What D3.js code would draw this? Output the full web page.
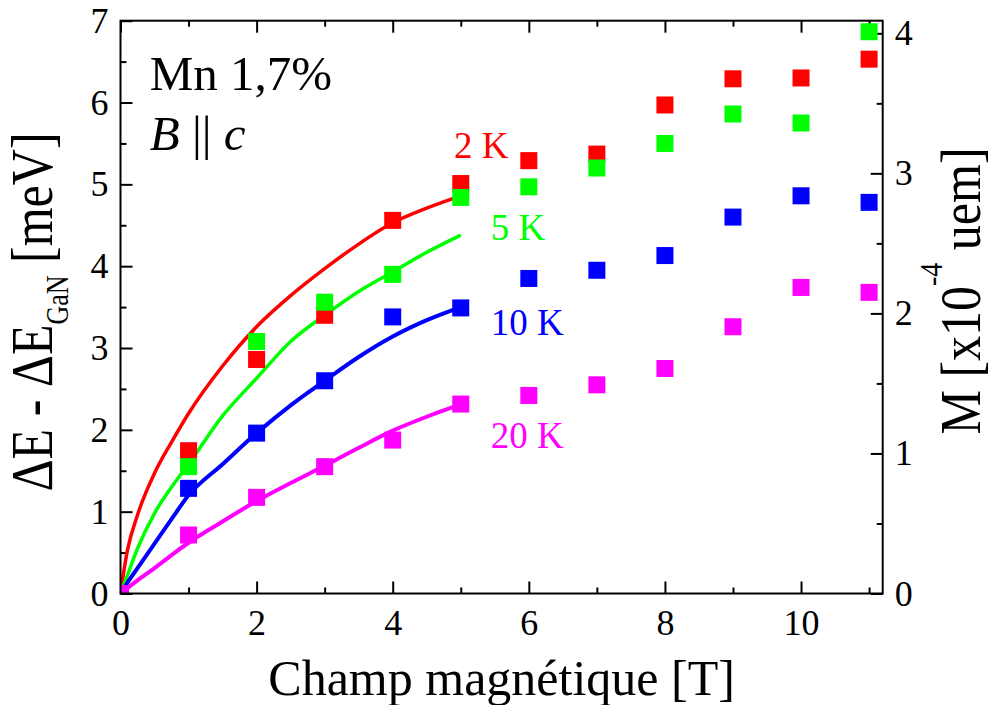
<!DOCTYPE html>
<html>
<head>
<meta charset="utf-8">
<script src="https://cdn.jsdelivr.net/npm/d3@7"></script>
<style>
  body { margin: 0; background: #fff; }
  svg { display: block; }
  text { font-family: "Liberation Serif", "Times New Roman", serif; }
</style>
</head>
<body>
<svg id="chart" width="994" height="705"></svg>
<script>
// ---------- data ----------
const fieldT = [1, 2, 3, 4, 5, 6, 7, 8, 9, 10, 11];
const fieldT20 = [0, 1, 2, 3, 4, 5, 6, 7, 8, 9, 10, 11];
const pts2K  = [1.745, 2.86, 3.40, 4.56, 5.01, 5.29, 5.37, 5.97, 6.29, 6.30, 6.53];
const pts5K  = [1.55, 3.08, 3.56, 3.90, 4.84, 4.97, 5.20, 5.50, 5.86, 5.75, 6.865];
const pts10K = [1.285, 1.96, 2.60, 3.38, 3.49, 3.85, 3.95, 4.13, 4.60, 4.86, 4.78];
const pts20K = [0, 0.715, 1.175, 1.55, 1.875, 2.315, 2.42, 2.55, 2.75, 3.26, 3.74, 3.68];

const curveField = [0, 0.1, 0.25, 0.5, 0.75, 1, 1.5, 2, 2.5, 3, 3.5, 4, 4.5, 5];
const fit2K  = [0, 0.52, 0.96, 1.47, 1.85, 2.20, 2.78, 3.26, 3.64, 3.97, 4.27, 4.53, 4.71, 4.86];
const fit5K  = [0, 0.22, 0.55, 0.98, 1.30, 1.58, 2.17, 2.63, 3.08, 3.40, 3.69, 3.93, 4.17, 4.38];
const fit10K = [0, 0.13, 0.31, 0.61, 0.91, 1.20, 1.58, 1.96, 2.30, 2.60, 2.89, 3.14, 3.34, 3.50];
const fit20K = [0, 0.065, 0.16, 0.31, 0.47, 0.62, 0.88, 1.13, 1.35, 1.56, 1.78, 1.99, 2.16, 2.31];

const seriesNames = ["2 K", "5 K", "10 K", "20 K"];
const seriesColors = ["#ff0000", "#00ff00", "#0000ff", "#ff00ff"];

const xMajorTicks = [0, 2, 4, 6, 8, 10];
const xMinorTicks = [1, 3, 5, 7, 9, 11];
const yMajorTicks = [0, 1, 2, 3, 4, 5, 6, 7];
const yMinorTicks = [0.5, 1.5, 2.5, 3.5, 4.5, 5.5, 6.5];
const yRMajorTicks = [0, 1, 2, 3, 4];
const yRMinorTicks = [0.5, 1.5, 2.5, 3.5];

// ---------- layout ----------
const svg = d3.select("#chart");
const L = 120.5, R = 882.7, T = 20.7, B = 593.5;

const x = d3.scaleLinear().domain([0, 11.2]).range([L, R]);
const y = d3.scaleLinear().domain([0, 7]).range([B, T]);
const yR = d3.scaleLinear().domain([0, 4.09]).range([B, T]);

svg.append("defs").append("clipPath").attr("id", "plotclip")
  .append("rect").attr("x", L).attr("y", T).attr("width", R - L).attr("height", B - T);

// ---------- axes ----------
function styleAxis(g) {
  g.select(".domain").remove();
  g.selectAll("line").attr("stroke", "#000").attr("stroke-width", 2);
  g.selectAll("text").attr("font-family", "'Liberation Serif','Times New Roman',serif")
    .attr("font-size", 36).attr("fill", "#000");
}
svg.append("g").attr("transform", `translate(0,${B})`)
  .call(d3.axisBottom(x).tickValues(xMajorTicks).tickSize(-12).tickPadding(16).tickFormat(d3.format("d")))
  .call(styleAxis);
svg.append("g").attr("transform", `translate(0,${B})`)
  .call(d3.axisBottom(x).tickValues(xMinorTicks).tickSize(-6).tickFormat(""))
  .call(styleAxis);
svg.append("g").attr("transform", `translate(0,${T})`)
  .call(d3.axisTop(x).tickValues(xMajorTicks).tickSize(-12).tickFormat(""))
  .call(styleAxis);
svg.append("g").attr("transform", `translate(0,${T})`)
  .call(d3.axisTop(x).tickValues(xMinorTicks).tickSize(-6).tickFormat(""))
  .call(styleAxis);
svg.append("g").attr("transform", `translate(${L},0)`)
  .call(d3.axisLeft(y).tickValues(yMajorTicks).tickSize(-12).tickPadding(12).tickFormat(d3.format("d")))
  .call(styleAxis);
svg.append("g").attr("transform", `translate(${L},0)`)
  .call(d3.axisLeft(y).tickValues(yMinorTicks).tickSize(-6).tickFormat(""))
  .call(styleAxis);
svg.append("g").attr("transform", `translate(${R},0)`)
  .call(d3.axisRight(yR).tickValues(yRMajorTicks).tickSize(-12).tickPadding(12).tickFormat(d3.format("d")))
  .call(styleAxis);
svg.append("g").attr("transform", `translate(${R},0)`)
  .call(d3.axisRight(yR).tickValues(yRMinorTicks).tickSize(-6).tickFormat(""))
  .call(styleAxis);

// ---------- curves & points ----------
const plot = svg.append("g").attr("clip-path", "url(#plotclip)");
const fits = [fit2K, fit5K, fit10K, fit20K];
const fitWidths = [3.5, 3.5, 4, 4];
const line = d3.line().x(d => x(d[0])).y(d => y(d[1])).curve(d3.curveMonotoneX);
fits.forEach((f, i) => {
  plot.append("path")
    .attr("d", line(curveField.map((b, j) => [b, f[j]])))
    .attr("fill", "none").attr("stroke", seriesColors[i])
    .attr("stroke-width", fitWidths[i]).attr("stroke-linejoin", "round");
});

const pointSets = [
  fieldT.map((b, j) => [b, pts2K[j]]),
  fieldT.map((b, j) => [b, pts5K[j]]),
  fieldT.map((b, j) => [b, pts10K[j]]),
  fieldT20.map((b, j) => [b, pts20K[j]])
];
const S = 17;
pointSets.forEach((ps, i) => {
  plot.append("g").selectAll("rect").data(ps).join("rect")
    .attr("x", d => x(d[0]) - S / 2).attr("y", d => y(d[1]) - S / 2)
    .attr("width", S).attr("height", S).attr("fill", seriesColors[i]);
});

// frame
svg.append("rect").attr("x", L).attr("y", T).attr("width", R - L).attr("height", B - T)
  .attr("fill", "none").attr("stroke", "#000").attr("stroke-width", 2);

// ---------- series labels ----------
const labelPos = [[4.90, 5.32], [5.44, 4.32], [5.44, 3.16], [5.44, 1.78]];
seriesNames.forEach((name, i) => {
  svg.append("text").attr("x", x(labelPos[i][0])).attr("y", y(labelPos[i][1]))
    .attr("font-size", 37).attr("fill", seriesColors[i]).text(name);
});

// ---------- annotations ----------
svg.append("text").attr("x", x(0.43)).attr("y", y(6.15)).attr("font-size", 49).attr("fill", "#000")
  .text("Mn 1,7%");
const bc = svg.append("text").attr("x", x(0.43)).attr("y", y(5.42)).attr("font-size", 49).attr("fill", "#000");
bc.append("tspan").attr("font-style", "italic").text("B");
bc.append("tspan").text(" || ");
bc.append("tspan").attr("font-style", "italic").text("c");

// ---------- axis titles ----------
svg.append("text").attr("x", (L + R) / 2).attr("y", 695).attr("text-anchor", "middle")
  .attr("font-size", 50).attr("fill", "#000").text("Champ magnétique [T]");

const yt = svg.append("text").attr("transform", "translate(52,312) rotate(-90) scale(1,1.2)")
  .attr("text-anchor", "middle").attr("font-size", 50).attr("fill", "#000");
yt.append("tspan").text("ΔE - ΔE");
yt.append("tspan").attr("font-size", 26).attr("dy", 13).text("GaN");
yt.append("tspan").attr("dy", -13).text(" [meV]");

const yrt = svg.append("text").attr("transform", "translate(980,291) rotate(-90) scale(1,1.15)")
  .attr("text-anchor", "middle").attr("font-size", 50).attr("fill", "#000");
yrt.append("tspan").text("M [x10");
yrt.append("tspan").attr("font-size", 28).attr("dy", -33).text("-4");
yrt.append("tspan").attr("dy", 33).text(" uem]");
</script>
</body>
</html>
